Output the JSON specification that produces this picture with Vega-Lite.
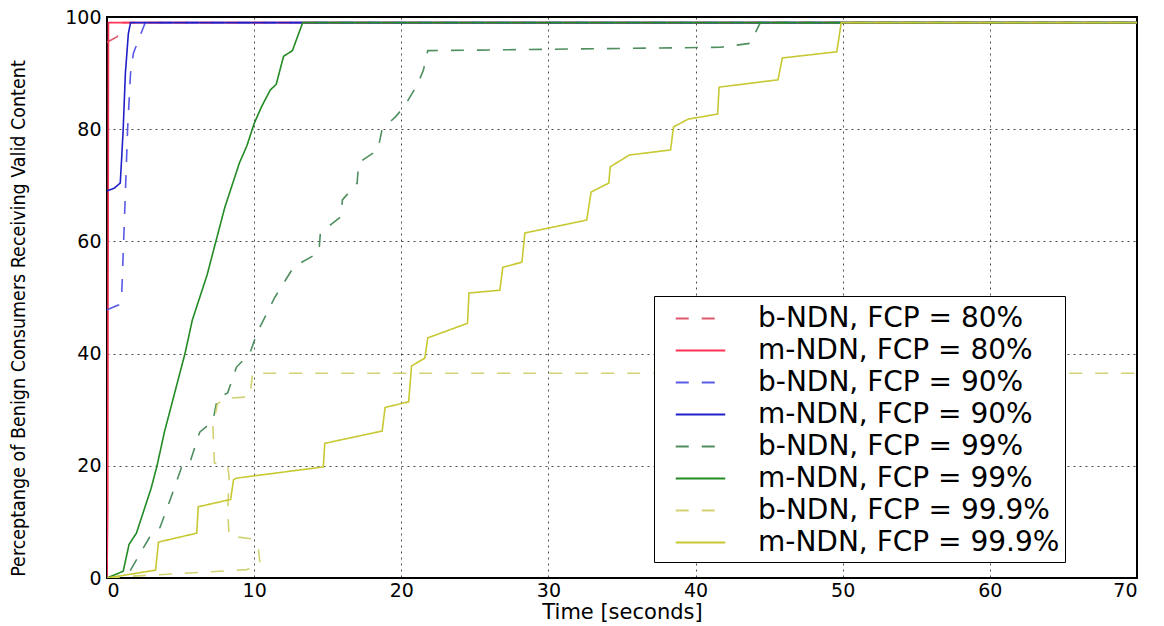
{
  "$schema": "https://vega.github.io/schema/vega-lite/v6.json",
  "autosize": {"type": "none"},
  "padding": {"left": 107, "top": 17, "right": 27, "bottom": 48},
  "width": 1030,
  "height": 561,
  "background": "white",
  "config": {
    "view": {"stroke": "black", "strokeWidth": 2},
    "axis": {
      "domain": false,
      "ticks": false,
      "grid": true,
      "gridColor": "#000000",
      "gridDash": [2, 4],
      "gridOpacity": 0.7,
      "gridWidth": 1,
      "labelFont": "DejaVu Sans",
      "labelFontSize": 19,
      "labelColor": "#000000",
      "titleColor": "#000000",
      "titleFontWeight": "normal"
    }
  },
  "data": {
    "values": [
      {"s": "b-NDN, FCP = 80%", "t": 0, "v": 95.5},
      {"s": "b-NDN, FCP = 80%", "t": 0.7, "v": 96.5},
      {"s": "b-NDN, FCP = 80%", "t": 1.1, "v": 99},
      {"s": "b-NDN, FCP = 80%", "t": 70, "v": 99},

      {"s": "m-NDN, FCP = 80%", "t": 0, "v": 0},
      {"s": "m-NDN, FCP = 80%", "t": 0.05, "v": 12},
      {"s": "m-NDN, FCP = 80%", "t": 0.1, "v": 99},
      {"s": "m-NDN, FCP = 80%", "t": 70, "v": 99},

      {"s": "b-NDN, FCP = 90%", "t": 0, "v": 47.8},
      {"s": "b-NDN, FCP = 90%", "t": 0.8, "v": 48.7},
      {"s": "b-NDN, FCP = 90%", "t": 1.0, "v": 50.5},
      {"s": "b-NDN, FCP = 90%", "t": 1.2, "v": 65},
      {"s": "b-NDN, FCP = 90%", "t": 1.4, "v": 80},
      {"s": "b-NDN, FCP = 90%", "t": 1.6, "v": 90},
      {"s": "b-NDN, FCP = 90%", "t": 1.8, "v": 93.6},
      {"s": "b-NDN, FCP = 90%", "t": 2.3, "v": 97},
      {"s": "b-NDN, FCP = 90%", "t": 2.6, "v": 99},
      {"s": "b-NDN, FCP = 90%", "t": 70, "v": 99},

      {"s": "m-NDN, FCP = 90%", "t": 0, "v": 69},
      {"s": "m-NDN, FCP = 90%", "t": 0.5, "v": 69.5},
      {"s": "m-NDN, FCP = 90%", "t": 0.9, "v": 70.4},
      {"s": "m-NDN, FCP = 90%", "t": 1.0, "v": 75},
      {"s": "m-NDN, FCP = 90%", "t": 1.1, "v": 80},
      {"s": "m-NDN, FCP = 90%", "t": 1.25, "v": 90},
      {"s": "m-NDN, FCP = 90%", "t": 1.45, "v": 97},
      {"s": "m-NDN, FCP = 90%", "t": 1.6, "v": 99},
      {"s": "m-NDN, FCP = 90%", "t": 70, "v": 99},

      {"s": "b-NDN, FCP = 99%", "t": 0, "v": 0},
      {"s": "b-NDN, FCP = 99%", "t": 1.4, "v": 0.5},
      {"s": "b-NDN, FCP = 99%", "t": 2.9, "v": 7.3},
      {"s": "b-NDN, FCP = 99%", "t": 3.6, "v": 9},
      {"s": "b-NDN, FCP = 99%", "t": 4.3, "v": 14},
      {"s": "b-NDN, FCP = 99%", "t": 5.1, "v": 20},
      {"s": "b-NDN, FCP = 99%", "t": 5.6, "v": 20.3},
      {"s": "b-NDN, FCP = 99%", "t": 6.3, "v": 26},
      {"s": "b-NDN, FCP = 99%", "t": 7.2, "v": 28},
      {"s": "b-NDN, FCP = 99%", "t": 7.5, "v": 32},
      {"s": "b-NDN, FCP = 99%", "t": 8.2, "v": 33},
      {"s": "b-NDN, FCP = 99%", "t": 8.8, "v": 37.6},
      {"s": "b-NDN, FCP = 99%", "t": 9.7, "v": 40},
      {"s": "b-NDN, FCP = 99%", "t": 10.2, "v": 43.7},
      {"s": "b-NDN, FCP = 99%", "t": 11.4, "v": 50},
      {"s": "b-NDN, FCP = 99%", "t": 12.7, "v": 55.5},
      {"s": "b-NDN, FCP = 99%", "t": 14.4, "v": 58},
      {"s": "b-NDN, FCP = 99%", "t": 14.5, "v": 61.5},
      {"s": "b-NDN, FCP = 99%", "t": 15.9, "v": 64.4},
      {"s": "b-NDN, FCP = 99%", "t": 16.0, "v": 67.4},
      {"s": "b-NDN, FCP = 99%", "t": 17.0, "v": 70.4},
      {"s": "b-NDN, FCP = 99%", "t": 17.1, "v": 74},
      {"s": "b-NDN, FCP = 99%", "t": 18.4, "v": 76.3},
      {"s": "b-NDN, FCP = 99%", "t": 18.7, "v": 80},
      {"s": "b-NDN, FCP = 99%", "t": 19.6, "v": 82.2},
      {"s": "b-NDN, FCP = 99%", "t": 20.2, "v": 84},
      {"s": "b-NDN, FCP = 99%", "t": 21.1, "v": 88},
      {"s": "b-NDN, FCP = 99%", "t": 21.5, "v": 90.5},
      {"s": "b-NDN, FCP = 99%", "t": 21.8, "v": 94},
      {"s": "b-NDN, FCP = 99%", "t": 41.7, "v": 94.6},
      {"s": "b-NDN, FCP = 99%", "t": 43.7, "v": 95.3},
      {"s": "b-NDN, FCP = 99%", "t": 44.4, "v": 99},
      {"s": "b-NDN, FCP = 99%", "t": 70, "v": 99},

      {"s": "m-NDN, FCP = 99%", "t": 0, "v": 0},
      {"s": "m-NDN, FCP = 99%", "t": 1.1, "v": 1.2},
      {"s": "m-NDN, FCP = 99%", "t": 1.5, "v": 6},
      {"s": "m-NDN, FCP = 99%", "t": 2.0, "v": 8},
      {"s": "m-NDN, FCP = 99%", "t": 2.5, "v": 12},
      {"s": "m-NDN, FCP = 99%", "t": 3.0, "v": 16},
      {"s": "m-NDN, FCP = 99%", "t": 3.4, "v": 20},
      {"s": "m-NDN, FCP = 99%", "t": 3.9, "v": 26},
      {"s": "m-NDN, FCP = 99%", "t": 4.3, "v": 30},
      {"s": "m-NDN, FCP = 99%", "t": 4.8, "v": 35},
      {"s": "m-NDN, FCP = 99%", "t": 5.3, "v": 40},
      {"s": "m-NDN, FCP = 99%", "t": 5.8, "v": 46},
      {"s": "m-NDN, FCP = 99%", "t": 6.3, "v": 50},
      {"s": "m-NDN, FCP = 99%", "t": 6.8, "v": 54},
      {"s": "m-NDN, FCP = 99%", "t": 7.2, "v": 58},
      {"s": "m-NDN, FCP = 99%", "t": 7.6, "v": 62},
      {"s": "m-NDN, FCP = 99%", "t": 8.0, "v": 66},
      {"s": "m-NDN, FCP = 99%", "t": 8.5, "v": 70},
      {"s": "m-NDN, FCP = 99%", "t": 9.0, "v": 74},
      {"s": "m-NDN, FCP = 99%", "t": 9.5, "v": 77},
      {"s": "m-NDN, FCP = 99%", "t": 10.0, "v": 81},
      {"s": "m-NDN, FCP = 99%", "t": 10.5, "v": 84},
      {"s": "m-NDN, FCP = 99%", "t": 11.1, "v": 87},
      {"s": "m-NDN, FCP = 99%", "t": 11.5, "v": 88},
      {"s": "m-NDN, FCP = 99%", "t": 12.0, "v": 93},
      {"s": "m-NDN, FCP = 99%", "t": 12.6, "v": 94},
      {"s": "m-NDN, FCP = 99%", "t": 13.3, "v": 99},
      {"s": "m-NDN, FCP = 99%", "t": 70, "v": 99},

      {"s": "b-NDN, FCP = 99.9%", "t": 0, "v": 0},
      {"s": "b-NDN, FCP = 99.9%", "t": 1.5, "v": 0.3},
      {"s": "b-NDN, FCP = 99.9%", "t": 5, "v": 0.8},
      {"s": "b-NDN, FCP = 99.9%", "t": 9.5, "v": 1.5},
      {"s": "b-NDN, FCP = 99.9%", "t": 10.4, "v": 2.5},
      {"s": "b-NDN, FCP = 99.9%", "t": 10.3, "v": 5},
      {"s": "b-NDN, FCP = 99.9%", "t": 9.8, "v": 7},
      {"s": "b-NDN, FCP = 99.9%", "t": 8.3, "v": 7.5},
      {"s": "b-NDN, FCP = 99.9%", "t": 8.2, "v": 12},
      {"s": "b-NDN, FCP = 99.9%", "t": 8.3, "v": 18},
      {"s": "b-NDN, FCP = 99.9%", "t": 8.2, "v": 20},
      {"s": "b-NDN, FCP = 99.9%", "t": 7.3, "v": 20.5},
      {"s": "b-NDN, FCP = 99.9%", "t": 7.2, "v": 27},
      {"s": "b-NDN, FCP = 99.9%", "t": 7.5, "v": 31},
      {"s": "b-NDN, FCP = 99.9%", "t": 8.0, "v": 32},
      {"s": "b-NDN, FCP = 99.9%", "t": 9.7, "v": 32.3},
      {"s": "b-NDN, FCP = 99.9%", "t": 9.9, "v": 36.5},
      {"s": "b-NDN, FCP = 99.9%", "t": 70, "v": 36.5},

      {"s": "m-NDN, FCP = 99.9%", "t": 0, "v": 0},
      {"s": "m-NDN, FCP = 99.9%", "t": 3.3, "v": 1.4},
      {"s": "m-NDN, FCP = 99.9%", "t": 3.5, "v": 6.4},
      {"s": "m-NDN, FCP = 99.9%", "t": 6.1, "v": 8},
      {"s": "m-NDN, FCP = 99.9%", "t": 6.2, "v": 12.7},
      {"s": "m-NDN, FCP = 99.9%", "t": 8.4, "v": 14},
      {"s": "m-NDN, FCP = 99.9%", "t": 8.6, "v": 17.5},
      {"s": "m-NDN, FCP = 99.9%", "t": 8.8, "v": 17.8},
      {"s": "m-NDN, FCP = 99.9%", "t": 14.7, "v": 19.8},
      {"s": "m-NDN, FCP = 99.9%", "t": 14.8, "v": 24},
      {"s": "m-NDN, FCP = 99.9%", "t": 18.7, "v": 26.2},
      {"s": "m-NDN, FCP = 99.9%", "t": 18.9, "v": 30.4},
      {"s": "m-NDN, FCP = 99.9%", "t": 20.5, "v": 31.4},
      {"s": "m-NDN, FCP = 99.9%", "t": 20.7, "v": 37.8},
      {"s": "m-NDN, FCP = 99.9%", "t": 21.6, "v": 39.2},
      {"s": "m-NDN, FCP = 99.9%", "t": 21.8, "v": 42.8},
      {"s": "m-NDN, FCP = 99.9%", "t": 24.5, "v": 45.4},
      {"s": "m-NDN, FCP = 99.9%", "t": 24.6, "v": 50.8},
      {"s": "m-NDN, FCP = 99.9%", "t": 26.7, "v": 51.3},
      {"s": "m-NDN, FCP = 99.9%", "t": 26.9, "v": 55.4},
      {"s": "m-NDN, FCP = 99.9%", "t": 28.2, "v": 56.3},
      {"s": "m-NDN, FCP = 99.9%", "t": 28.4, "v": 61.5},
      {"s": "m-NDN, FCP = 99.9%", "t": 32.6, "v": 63.8},
      {"s": "m-NDN, FCP = 99.9%", "t": 32.9, "v": 68.8},
      {"s": "m-NDN, FCP = 99.9%", "t": 34.1, "v": 70.4},
      {"s": "m-NDN, FCP = 99.9%", "t": 34.2, "v": 73.3},
      {"s": "m-NDN, FCP = 99.9%", "t": 35.5, "v": 75.4},
      {"s": "m-NDN, FCP = 99.9%", "t": 38.3, "v": 76.3},
      {"s": "m-NDN, FCP = 99.9%", "t": 38.5, "v": 80.4},
      {"s": "m-NDN, FCP = 99.9%", "t": 39.5, "v": 81.8},
      {"s": "m-NDN, FCP = 99.9%", "t": 41.5, "v": 82.7},
      {"s": "m-NDN, FCP = 99.9%", "t": 41.6, "v": 87.5},
      {"s": "m-NDN, FCP = 99.9%", "t": 45.6, "v": 88.8},
      {"s": "m-NDN, FCP = 99.9%", "t": 45.9, "v": 92.7},
      {"s": "m-NDN, FCP = 99.9%", "t": 49.6, "v": 93.8},
      {"s": "m-NDN, FCP = 99.9%", "t": 49.9, "v": 99},
      {"s": "m-NDN, FCP = 99.9%", "t": 70, "v": 99}
    ]
  },
  "mark": {"type": "line", "strokeWidth": 1.6, "clip": true},
  "encoding": {
    "x": {
      "field": "t",
      "type": "quantitative",
      "scale": {"domain": [0, 70], "nice": false},
      "axis": {
        "values": [0, 10, 20, 30, 40, 50, 60, 70],
        "labelPadding": 3,
        "title": "Time [seconds]",
        "titleFont": "DejaVu Sans",
        "titleFontSize": 21,
        "titleY": 34,
        "titleBaseline": "middle"
      }
    },
    "y": {
      "field": "v",
      "type": "quantitative",
      "scale": {"domain": [0, 100], "nice": false},
      "axis": {
        "values": [0, 20, 40, 60, 80, 100],
        "labelPadding": 6,
        "title": "Perceptange of Benign Consumers Receiving Valid Content",
        "titleFont": "'DejaVu Sans Condensed', 'Roboto Condensed', Roboto, sans-serif",
        "titleFontSize": 19.5,
        "titleX": -89,
        "titleY": 301,
        "titleAngle": -90,
        "titleAlign": "center",
        "titleBaseline": "middle"
      }
    },
    "order": {"value": null},
    "color": {
      "field": "s",
      "type": "nominal",
      "scale": {
        "domain": ["b-NDN, FCP = 80%", "m-NDN, FCP = 80%", "b-NDN, FCP = 90%", "m-NDN, FCP = 90%", "b-NDN, FCP = 99%", "m-NDN, FCP = 99%", "b-NDN, FCP = 99.9%", "m-NDN, FCP = 99.9%"],
        "range": ["#e05a6e", "#ff3355", "#5a5ae6", "#2020c8", "#4f8f5f", "#238b23", "#d2d272", "#c8c832"]
      },
      "legend": {
        "title": null,
        "orient": "none",
        "legendX": 547,
        "legendY": 279,
        "direction": "vertical",
        "strokeColor": "black",
        "fillColor": "white",
        "padding": 5,
        "symbolType": "M-1.5,0H1.5",
        "symbolSize": 1089,
        "symbolStrokeWidth": 2,
        "symbolOffset": 24,
        "labelOffset": 40,
        "labelFont": "DejaVu Sans",
        "labelFontSize": 28,
        "labelColor": "#000000",
        "rowPadding": 0,
        "labelLimit": 500
      }
    },
    "strokeDash": {
      "field": "s",
      "type": "nominal",
      "scale": {
        "domain": ["b-NDN, FCP = 80%", "m-NDN, FCP = 80%", "b-NDN, FCP = 90%", "m-NDN, FCP = 90%", "b-NDN, FCP = 99%", "m-NDN, FCP = 99%", "b-NDN, FCP = 99.9%", "m-NDN, FCP = 99.9%"],
        "range": [[13, 13], [1, 0], [13, 13], [1, 0], [13, 13], [1, 0], [13, 13], [1, 0]]
      },
      "legend": {
        "title": null,
        "orient": "none",
        "legendX": 547,
        "legendY": 279,
        "direction": "vertical",
        "strokeColor": "black",
        "fillColor": "white",
        "padding": 5,
        "symbolType": "M-1.5,0H1.5",
        "symbolSize": 1089,
        "symbolStrokeWidth": 2,
        "symbolOffset": 24,
        "labelOffset": 40,
        "labelFont": "DejaVu Sans",
        "labelFontSize": 28,
        "labelColor": "#000000",
        "rowPadding": 0,
        "labelLimit": 500
      }
    }
  }
}
